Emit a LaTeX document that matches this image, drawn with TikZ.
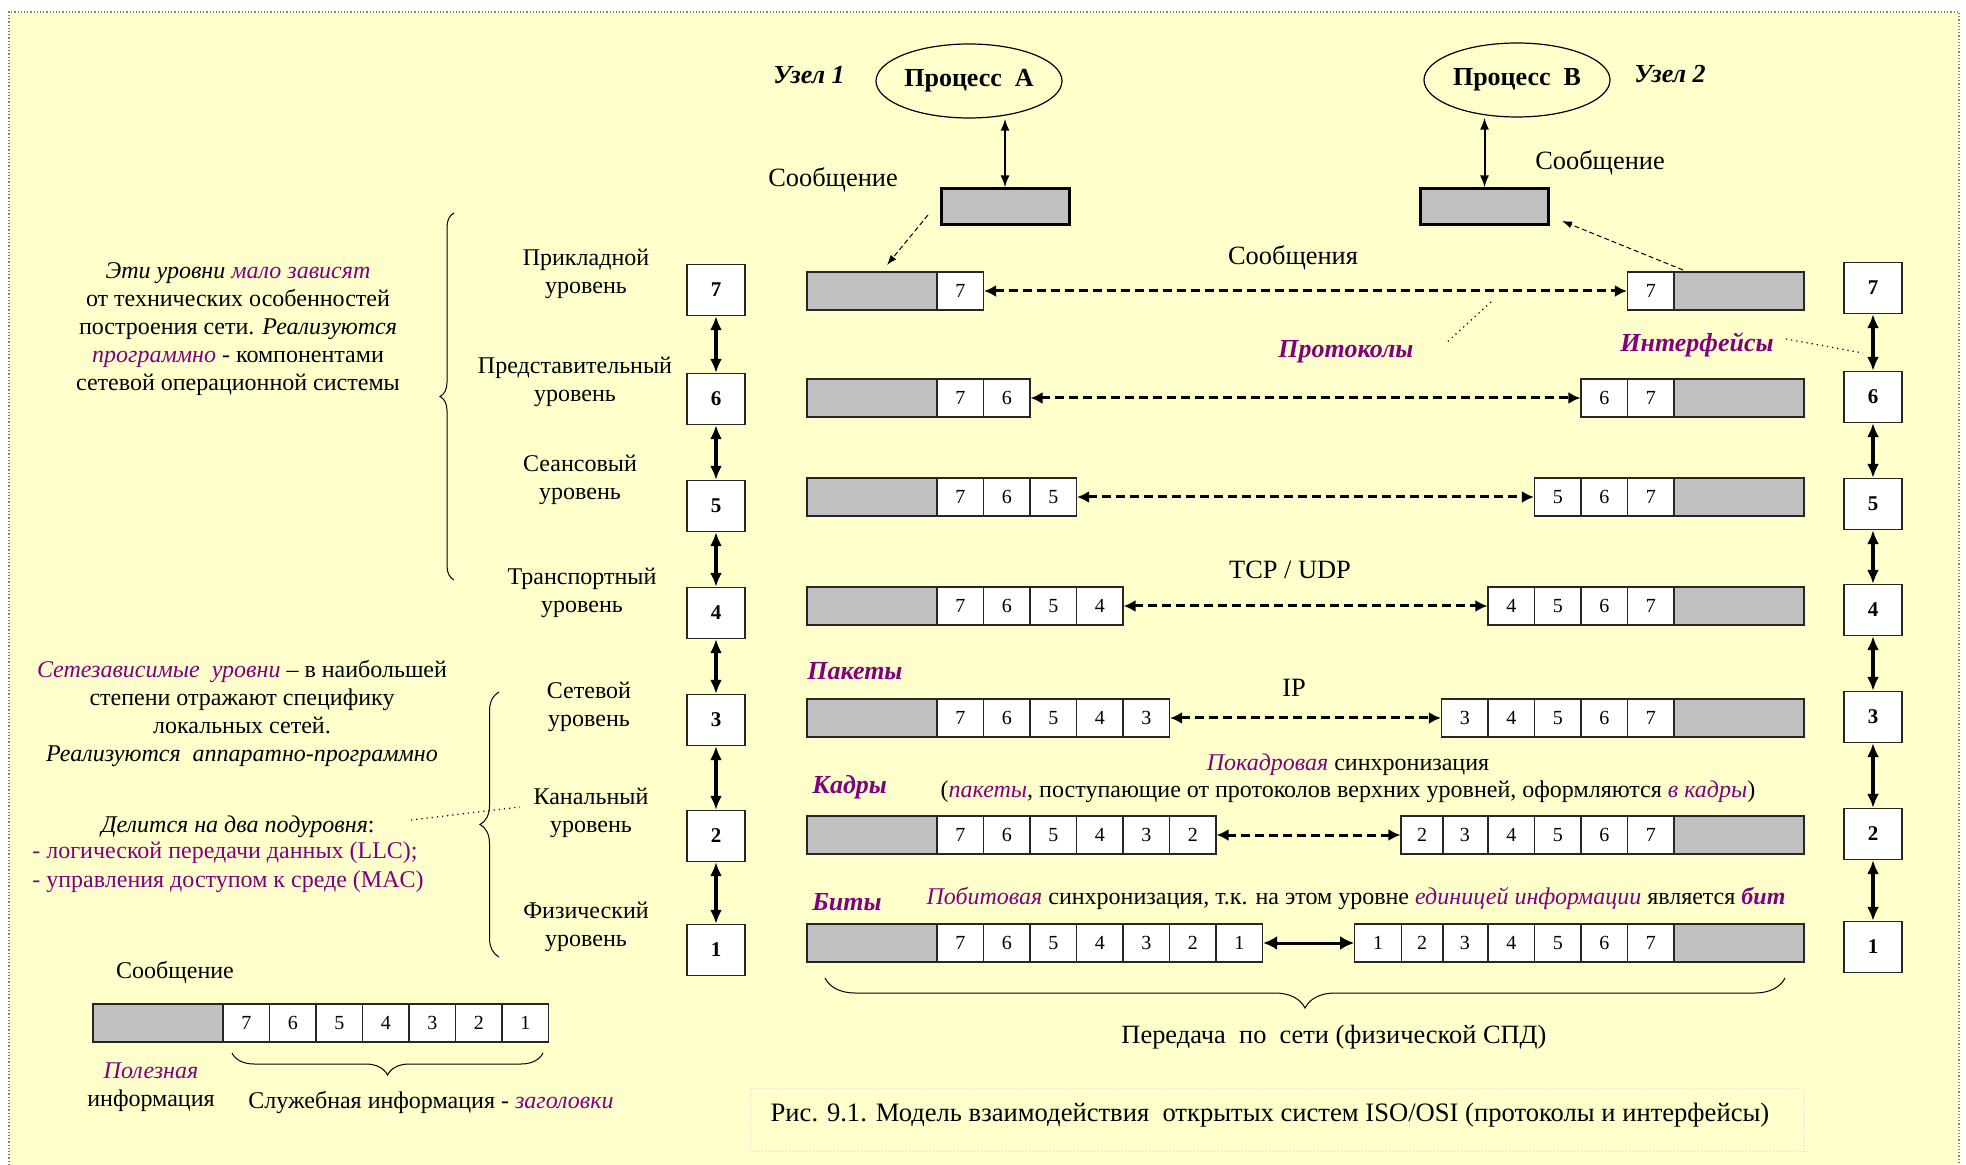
\documentclass[tikz,border=0pt]{standalone}
\usepackage{fontspec}
\setmainfont{Liberation Serif}
\usetikzlibrary{arrows.meta,decorations.pathreplacing,calc,shapes.geometric}
\definecolor{bgyellow}{HTML}{FFFFCC}
\definecolor{purp}{HTML}{800080}
\definecolor{cellgray}{HTML}{C0C0C0}
\newcommand\purit[1]{\textcolor{purp}{\textit{#1}}}
\newcommand\purbf[1]{\textcolor{purp}{\textbf{\textit{#1}}}}
\tikzset{
  txt/.style={font=\fontsize{12}{14}\selectfont, align=center, inner sep=0pt},
  ltxt/.style={font=\fontsize{13.2}{15}\selectfont, align=center, inner sep=0pt},
  bigtxt/.style={font=\fontsize{13}{15}\selectfont\bfseries\itshape, text=purp, inner sep=0pt},
  cellbox/.style={draw=black!85, line width=0.6pt, fill=white, minimum width=23.25pt, minimum height=19pt, inner sep=0pt, font=\fontsize{10}{12}\selectfont},
  graybox/.style={draw=black!85, line width=0.6pt, fill=cellgray, minimum width=65pt, minimum height=19pt, inner sep=0pt},
  lvlbox/.style={draw=black!85, line width=0.6pt, fill=white, minimum width=29pt, minimum height=25.5pt, inner sep=0pt, font=\fontsize{10.5}{12}\selectfont\bfseries},
  vertarrow/.style={line width=2pt, {Latex[length=7pt,width=6pt]}-{Latex[length=7pt,width=6pt]}},
  procarrow/.style={line width=1pt, {Latex[length=6pt,width=4.5pt]}-{Latex[length=6pt,width=4.5pt]}},
  dasharrow/.style={line width=1.5pt, dash pattern=on 4.5pt off 2.5pt, {Latex[length=6pt,width=6pt]}-{Latex[length=6pt,width=6pt]}},
  solidarrow/.style={line width=1.5pt, {Latex[length=7pt,width=7pt]}-{Latex[length=7pt,width=7pt]}},
  thindash/.style={line width=0.5pt, dash pattern=on 2.5pt off 1.5pt, -{Latex[length=5pt,width=3.5pt]}},
  pointer/.style={line width=0.6pt, dotted},
  bracestyle/.style={decorate, line width=0.5pt}
}
\begin{document}
\begin{tikzpicture}[x=0.5pt,y=-0.5pt]
\useasboundingbox (0,0) rectangle (1966,1165);
\fill[white] (0,0) rectangle (1966,1165);
\fill[bgyellow] (9,12) rectangle (1959,1165);
\draw[gray, line width=0.6pt, densely dotted] (9,1165) -- (9,12) -- (1959,12) -- (1959,1165);

% caption box
\node[draw=black!15, densely dotted, line width=0.5pt, minimum width=527pt, minimum height=31.5pt, inner sep=0pt] (capbox) at (1277,1119.5) {};
\node[txt, font=\fontsize{13.3}{15}\selectfont] (caption) at (1270,1115) {Рис. 9.1. Модель взаимодействия\ \ открытых систем ISO/OSI (протоколы и интерфейсы)};

% top processes
\node[ellipse, draw, line width=0.6pt, minimum width=93pt, minimum height=37pt, inner sep=0pt, font=\fontsize{13}{15}\selectfont\bfseries] (procA) at (969,81) {Процесс\ \ А};
\node[ellipse, draw, line width=0.6pt, minimum width=93pt, minimum height=37pt, inner sep=0pt, font=\fontsize{13}{15}\selectfont\bfseries] (procB) at (1517,80) {Процесс\ \ В};
\node[txt, font=\fontsize{13}{15}\selectfont\bfseries\itshape] (uzel1) at (809,75) {Узел 1};
\node[txt, font=\fontsize{13}{15}\selectfont\bfseries\itshape] (uzel2) at (1670,74) {Узел 2};

\node[draw, line width=1.5pt, fill=cellgray, minimum width=64pt, minimum height=18pt, inner sep=0pt] (msgA) at (1005,207) {};
\node[draw, line width=1.5pt, fill=cellgray, minimum width=64pt, minimum height=18pt, inner sep=0pt] (msgB) at (1484.5,207) {};
\node[ltxt] (somA) at (833,180) {Сообщение};
\node[ltxt] (somB) at (1600,163) {Сообщение};
\draw[procarrow] (procA.south -| msgA.north) -- (msgA.north);
\draw[procarrow] (procB.south -| msgB.north) -- (msgB.north);

% rows
\foreach \r/\y in {7/291,6/398,5/497,4/606,3/718,2/835,1/943}{
  \node[graybox] (Lg\r) at (872,\y) {};
  \node[graybox] (Rg\r) at (1739,\y) {};
  \foreach \k in {7,...,\r}{
    \pgfmathsetmacro\xl{960.25+(7-\k)*46.5}
    \pgfmathsetmacro\xr{\k>2 ? 1650.75-(7-\k)*46.5 : (\k==2 ? 1422 : 1378)}
    \pgfmathsetmacro\wr{\k==2 ? 21 : 23.25}
    \node[cellbox] (Lc\r-\k) at (\xl,\y) {\k};
    \node[cellbox, minimum width=\wr pt] (Rc\r-\k) at (\xr,\y) {\k};
  }
}
\foreach \r in {7,6,5,4,3,2}{
  \draw[dasharrow] (Lc\r-\r.east) -- (Rc\r-\r.west);
}
\draw[solidarrow] (Lc1-1.east) -- (Rc1-1.west);

% level boxes
\foreach \k/\yl/\yr in {7/290/288,6/399/397,5/506/504,4/613/610,3/720/717,2/836/834,1/950/947}{
  \node[lvlbox] (LB\k) at (716,\yl) {\k};
  \node[lvlbox] (RB\k) at (1873,\yr) {\k};
}
\foreach \a/\b in {7/6,6/5,5/4,4/3,3/2,2/1}{
  \draw[vertarrow] (LB\a.south) -- (LB\b.north);
  \draw[vertarrow] (RB\a.south) -- (RB\b.north);
}

% layer names
\node[txt] (n7) at (586,274) {Прикладной\\уровень};
\node[txt] (n6) at (575,382) {Представительный\\уровень};
\node[txt] (n5) at (580,480) {Сеансовый\\уровень};
\node[txt] (n4) at (582,593) {Транспортный\\уровень};
\node[txt] (n3) at (589,707) {Сетевой\\уровень};
\node[txt] (n2) at (591,813) {Канальный\\уровень};
\node[txt] (n1) at (586,927) {Физический\\уровень};

% thin dashed arrows
\coordinate (dA1) at (928,215);
\coordinate (dA2) at (887,265);
\draw[thindash] (dA1) -- (dA2);
\coordinate (dB1) at (1683,270);
\coordinate (dB2) at (1562,221);
\draw[thindash] (dB1) -- (dB2);

% labels in the middle
\node[ltxt] (soobsh) at (1293,258) {Сообщения};
\node[bigtxt] (protok) at (1346,352) {Протоколы};
\node[bigtxt] (interf) at (1697,345) {Интерфейсы};
\coordinate (pp1) at (1491,302);
\coordinate (pp2) at (1445,344);
\draw[pointer] (pp1) -- (pp2);
\coordinate (ip1) at (1786,339);
\coordinate (ip2) at (1863,353);
\draw[pointer] (ip1) -- (ip2);
\node[ltxt] (tcp) at (1290,570) {TCP / UDP};
\node[bigtxt, anchor=west] (pakety) at (807,671) {Пакеты};
\node[ltxt] (ip) at (1294,688) {IP};
\node[txt] (pokadr) at (1348,765) {\purit{Покадровая} синхронизация};
\node[bigtxt, anchor=west] (kadry) at (812,787) {Кадры};
\node[txt] (pakpost) at (1348,792) {(\purit{пакеты}, поступающие от протоколов верхних уровней, оформляются \purit{в кадры})};
\node[bigtxt, anchor=west] (bity) at (812,902) {Биты};
\node[txt] (pobit) at (1356,898) {\purit{Побитовая} синхронизация, т.к. на этом уровне \purit{единицей информации} является \purbf{бит}};

% bottom brace
\draw[bracestyle, decoration={brace, amplitude=15pt}] (1785,978) -- (825,978);
\node[ltxt] (peredacha) at (1334,1037) {Передача\ \ по\ \ сети (физической СПД)};

% left texts
\node[txt] (t1) at (238,329) {\textit{Эти уровни} \purit{мало зависят}\\от технических особенностей\\построения сети. \textit{Реализуются}\\\purit{программно} - компонентами\\сетевой операционной системы};
\draw[bracestyle, decoration={brace, amplitude=7pt}] (454,580) -- (454,213);
\node[txt] (t2) at (242,714) {\purit{Сетезависимые\ \ уровни} -- в наибольшей\\степени отражают специфику\\локальных сетей.\\\textit{Реализуются\ \ аппаратно-программно}};
\draw[bracestyle, decoration={brace, amplitude=9.5pt}] (499,957) -- (499,692);
\node[txt] (t3) at (238,827) {\textit{Делится на два подуровня}:};
\node[txt, anchor=west, text=purp] (t4) at (32,853) {- логической передачи данных (LLC);};
\node[txt, anchor=west, text=purp] (t5) at (32,882) {- управления доступом к среде (MAC)};
\coordinate (dp1) at (411,820);
\coordinate (dp2) at (520,807);
\draw[pointer] (dp1) -- (dp2);

% legend
\node[txt] (legsom) at (175,972) {Сообщение};
\node[graybox] (Mg) at (158,1023) {};
\foreach \k in {7,...,1}{
  \pgfmathsetmacro\xm{246.25+(7-\k)*46.5}
  \node[cellbox] (Mc\k) at (\xm,1023) {\k};
}
\draw[bracestyle, decoration={brace, amplitude=11pt}] (543,1053) -- (232,1053);
\node[txt] (polez) at (151,1087) {\purit{Полезная}\\информация};
\node[txt] (sluzh) at (431,1102) {Служебная информация - \purit{заголовки}};
\end{tikzpicture}
\end{document}
